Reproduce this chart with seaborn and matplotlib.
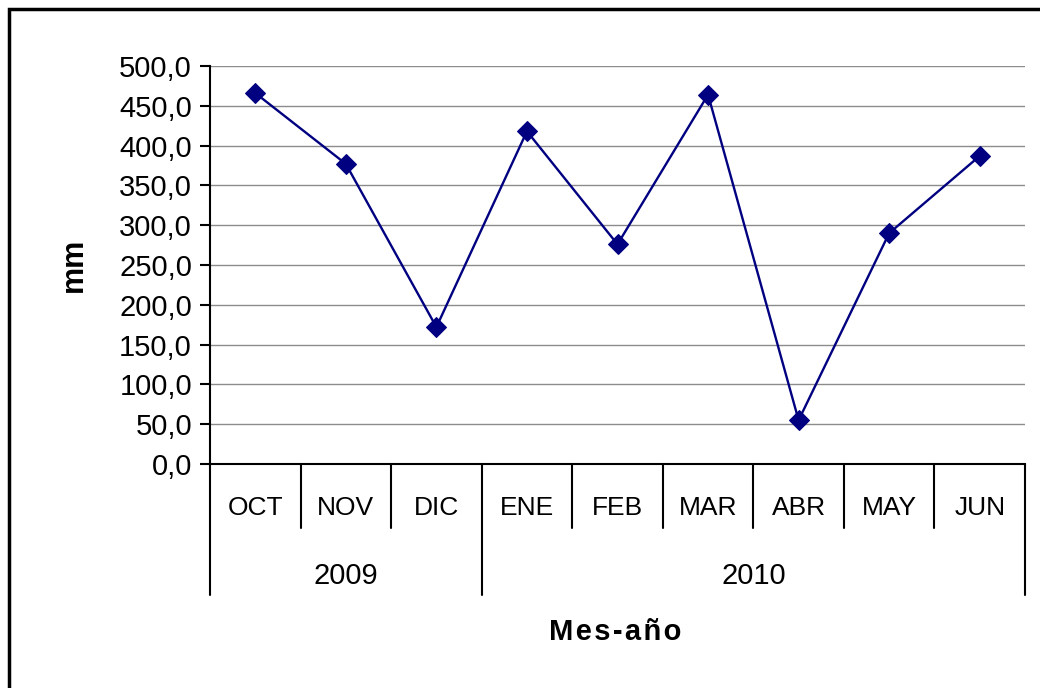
import matplotlib
matplotlib.use("Agg")
import matplotlib.pyplot as plt
import matplotlib.transforms as mtransforms
from matplotlib.patches import Rectangle
import seaborn as sns
import pandas as pd

months = ["OCT", "NOV", "DIC", "ENE", "FEB", "MAR", "ABR", "MAY", "JUN"]
years = ["2009", "2010"]
year_months = [3, 6]
mm = [466.0, 377.0, 172.0, 418.0, 276.0, 464.0, 55.0, 290.0, 387.0]
yticks = [0, 50, 100, 150, 200, 250, 300, 350, 400, 450, 500]
ylabels = ["0,0", "50,0", "100,0", "150,0", "200,0", "250,0", "300,0",
           "350,0", "400,0", "450,0", "500,0"]

df = pd.DataFrame({"pos": range(len(months)), "mm": mm})

sns.set_style("white")
plt.rcParams["font.family"] = ["Liberation Sans", "DejaVu Sans"]
plt.rcParams["text.color"] = "black"
plt.rcParams["ytick.color"] = "black"
plt.rcParams["axes.labelcolor"] = "black"

fig = plt.figure(figsize=(10.4, 6.88), dpi=100)
ax = fig.add_axes([210 / 1040, 1 - 464 / 688, 815 / 1040, 398 / 688])

sns.lineplot(data=df, x="pos", y="mm", ax=ax, color="#000080", marker="D",
             markersize=10.5, linewidth=1.7, markeredgecolor="#000080")

ax.set_xlim(-0.5, len(months) - 0.5)
ax.set_ylim(0, 500)
ax.set_yticks(yticks)
ax.set_yticklabels(ylabels, fontsize=21)
ax.yaxis.grid(True, color="#8c8c8c", linewidth=1)
ax.set_axisbelow(True)
for s in ["top", "right"]:
    ax.spines[s].set_visible(False)
for s in ["left", "bottom"]:
    ax.spines[s].set_color("black")
    ax.spines[s].set_linewidth(1.5)
ax.tick_params(axis="y", left=True, length=7, width=1.5, color="black", pad=6)
ax.set_xticks([])
ax.set_xlabel("")
ax.set_ylabel("")
fig.text(73.5 / 1040, 1 - 265 / 688, "mm", rotation=90, ha="center",
         va="center", fontsize=22, fontweight="bold")

# grouped category axis
tr = mtransforms.blended_transform_factory(ax.transData, ax.transAxes)
bounds_long = [-0.5, 2.5, 8.5]
for i in range(len(months) + 1):
    xb = i - 0.5
    ybot = -0.329 if xb in bounds_long else -0.161
    ax.plot([xb, xb], [0, ybot], transform=tr, color="black", lw=1.5,
            clip_on=False)
for i, m in enumerate(months):
    ax.text(i, -0.111, m, transform=tr, ha="center", va="center", fontsize=19)
starts = [0, 3]
for y, s, n in zip(years, starts, year_months):
    ax.text(s + (n - 1) / 2, -0.281, y, transform=tr, ha="center",
            va="center", fontsize=21)
fig.text(615.5 / 1040, 1 - 632 / 688, "\u200a".join("Mes-año"),
         ha="center", va="center", fontsize=21, fontweight="bold")

# outer chart frame
fig.patches.append(Rectangle((9 / 1040, -0.1), 1.2, 1 - 9 / 688 + 0.1,
                             transform=fig.transFigure, fill=False,
                             edgecolor="black", linewidth=2.5))

fig.savefig("out.png", dpi=100)
